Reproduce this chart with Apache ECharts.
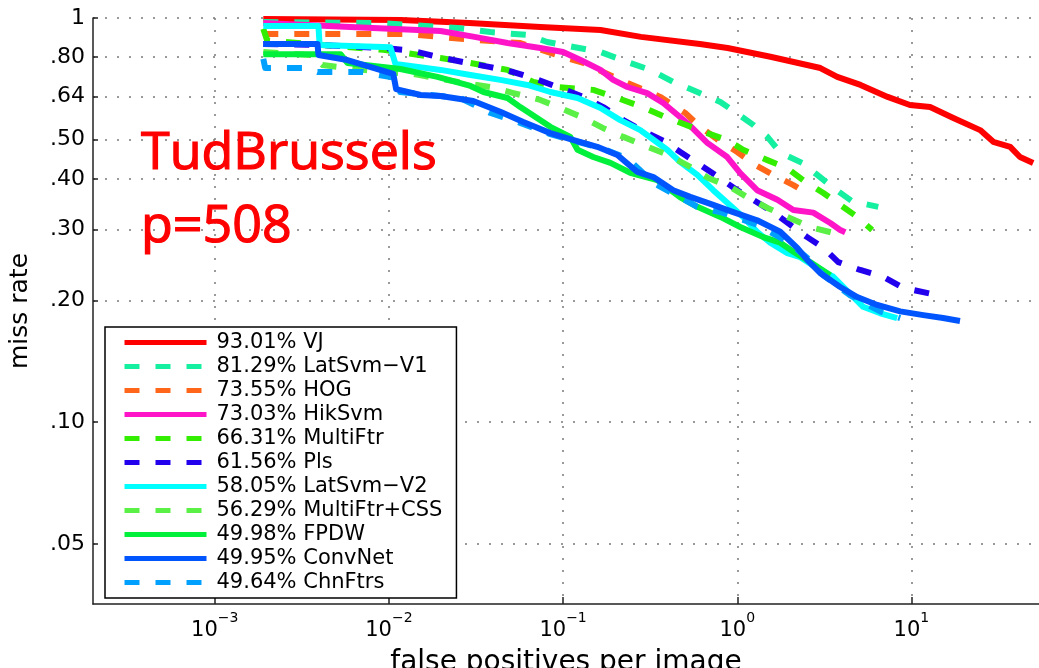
<!DOCTYPE html>
<html>
<head>
<meta charset="utf-8">
<script src="https://cdn.jsdelivr.net/npm/echarts@6/dist/echarts.min.js"></script>
<style>
  html, body { margin: 0; padding: 0; background: #fff; }
  #chart { width: 1039px; height: 668px; }
</style>
</head>
<body>
<div id="chart"></div>
<script>
// Miss rate vs. false positives per image (log-log), TudBrussels pedestrian benchmark
const methodNames = [
  '93.01% VJ', '81.29% LatSvm−V1', '73.55% HOG', '73.03% HikSvm', '66.31% MultiFtr',
  '61.56% Pls', '58.05% LatSvm−V2', '56.29% MultiFtr+CSS', '49.98% FPDW', '49.95% ConvNet', '49.64% ChnFtrs'
];
const methodColors = [
  '#ff0000', '#14f0a0', '#ff6619', '#ff14c8', '#33ee00',
  '#2200ee', '#00ffff', '#5af046', '#00f03c', '#0055ff', '#00a0ff'
];
const methodDashed = [false, true, true, false, true, true, false, true, false, false, true];

// [fppi, miss rate] pairs per method
const vjPts = [[0.0019,0.994],[0.0117,0.989],[0.029,0.972],[0.074,0.95],[0.164,0.934],[0.28,0.898],[0.61,0.862],[0.88,0.843],[1.55,0.802],[3.0,0.752],[3.75,0.715],[5.1,0.683],[7.3,0.638],[9.8,0.609],[12.8,0.602],[17.4,0.566],[24.8,0.528],[29.5,0.494],[36.9,0.48],[42,0.453],[50,0.438]];
const latSvmV1Pts = [[0.0019,0.977],[0.0089,0.972],[0.0247,0.945],[0.0383,0.923],[0.0624,0.908],[0.081,0.872],[0.115,0.848],[0.164,0.824],[0.234,0.778],[0.317,0.744],[0.429,0.695],[0.59,0.656],[0.8,0.62],[0.95,0.589],[1.235,0.544],[1.49,0.508],[1.77,0.464],[2.36,0.438],[2.88,0.409],[3.56,0.38],[4.57,0.352],[6.45,0.341]];
const hogPts = [[0.0019,0.913],[0.0128,0.913],[0.0268,0.887],[0.0568,0.867],[0.1,0.801],[0.131,0.774],[0.213,0.703],[0.361,0.638],[0.503,0.582],[0.613,0.538],[0.778,0.499],[1.0,0.466],[1.27,0.433],[1.61,0.409],[2.1,0.386],[2.62,0.365]];
const hikSvmPts = [[0.0019,0.972],[0.006,0.95],[0.0198,0.929],[0.031,0.898],[0.048,0.867],[0.074,0.843],[0.1,0.824],[0.126,0.787],[0.164,0.744],[0.194,0.703],[0.234,0.675],[0.304,0.652],[0.376,0.616],[0.516,0.55],[0.673,0.491],[0.876,0.453],[1.04,0.413],[1.3,0.375],[1.7,0.355],[2.1,0.335],[2.73,0.33],[3.42,0.311],[3.9,0.299],[4.17,0.295]];
const multiFtrPts = [[0.0019,0.94],[0.002,0.88],[0.004,0.858],[0.0093,0.834],[0.0198,0.796],[0.0275,0.778],[0.048,0.744],[0.0675,0.695],[0.0927,0.675],[0.149,0.664],[0.205,0.634],[0.285,0.602],[0.386,0.569],[0.673,0.519],[0.876,0.499],[1.08,0.472],[1.49,0.445],[1.94,0.425],[2.39,0.397],[3.12,0.369],[3.9,0.345],[4.88,0.322],[5.95,0.299]];
const plsPts = [[0.0019,0.862],[0.004,0.858],[0.0093,0.843],[0.0138,0.829],[0.019,0.801],[0.0268,0.778],[0.0383,0.756],[0.0518,0.735],[0.0721,0.703],[0.0964,0.671],[0.131,0.638],[0.17,0.602],[0.222,0.559],[0.296,0.522],[0.386,0.494],[0.471,0.466],[0.613,0.433],[0.778,0.404],[1.0,0.375],[1.3,0.35],[1.61,0.331],[2.01,0.308],[2.52,0.287],[3.12,0.27],[3.8,0.249],[5.08,0.238],[6.88,0.229],[8.97,0.215],[12.8,0.208]];
const latSvmV2Pts = [[0.0019,0.955],[0.00394,0.955],[0.004,0.858],[0.0102,0.846],[0.0109,0.77],[0.0198,0.744],[0.0294,0.723],[0.0436,0.703],[0.0624,0.683],[0.0845,0.656],[0.121,0.634],[0.164,0.599],[0.213,0.559],[0.2775,0.528],[0.396,0.472],[0.471,0.44],[0.59,0.409],[0.728,0.375],[0.876,0.349],[1.08,0.322],[1.3,0.296],[1.546,0.278],[1.94,0.262],[2.3,0.256],[2.99,0.238],[3.56,0.229],[5.28,0.193],[6.62,0.186],[8.28,0.181]];
const multiFtrCssPts = [[0.0019,0.824],[0.00355,0.81],[0.00415,0.765],[0.0092,0.735],[0.0138,0.727],[0.0268,0.691],[0.0383,0.675],[0.0518,0.652],[0.074,0.627],[0.0964,0.599],[0.131,0.566],[0.17,0.534],[0.222,0.508],[0.289,0.485],[0.402,0.458],[0.537,0.428],[0.682,0.402],[0.912,0.382],[1.157,0.359],[1.49,0.339],[1.94,0.322],[2.62,0.304],[3.56,0.294]];
const fpdwPts = [[0.0019,0.814],[0.00527,0.814],[0.00578,0.774],[0.01164,0.748],[0.019,0.715],[0.0294,0.679],[0.0349,0.656],[0.048,0.634],[0.0568,0.602],[0.0845,0.538],[0.11,0.508],[0.121,0.472],[0.149,0.453],[0.187,0.438],[0.243,0.414],[0.347,0.397],[0.471,0.36],[0.59,0.341],[0.8,0.322],[1.04,0.304],[1.41,0.287],[1.765,0.278],[2.1,0.264],[2.62,0.249],[3.42,0.231]];
const convNetPts = [[0.0019,0.862],[0.00389,0.862],[0.00394,0.81],[0.00578,0.787],[0.0106,0.727],[0.011,0.667],[0.0152,0.645],[0.0198,0.641],[0.0305,0.623],[0.0436,0.586],[0.0591,0.553],[0.0845,0.519],[0.115,0.499],[0.157,0.48],[0.205,0.458],[0.267,0.416],[0.33,0.404],[0.429,0.375],[0.537,0.361],[0.728,0.345],[0.948,0.331],[1.3,0.316],[1.765,0.296],[2.21,0.27],[2.52,0.252],[2.99,0.234],[3.9,0.216],[4.88,0.204],[6.36,0.195],[8.62,0.188],[11.7,0.184],[15.2,0.181],[19.0,0.178]];
const chnFtrsPts = [[0.0019,0.792],[0.00195,0.752],[0.0033,0.752],[0.00389,0.735],[0.0071,0.735],[0.0109,0.711],[0.0116,0.656],[0.0257,0.634],[0.0383,0.582],[0.0568,0.55],[0.0845,0.516],[0.164,0.477],[0.234,0.45],[0.33,0.391],[0.59,0.341],[0.82,0.33],[1.3,0.308],[1.94,0.28],[2.52,0.255],[3.12,0.231],[4.45,0.206],[6.62,0.188],[8.62,0.181]];

const methodPts = [vjPts, latSvmV1Pts, hogPts, hikSvmPts, multiFtrPts, plsPts, latSvmV2Pts, multiFtrCssPts, fpdwPts, convNetPts, chnFtrsPts];

// axis ticks
const yTickValues = [0.05, 0.1, 0.2, 0.3, 0.4, 0.5, 0.64, 0.8, 1];
const yTickLabels = ['.05', '.10', '.20', '.30', '.40', '.50', '.64', '.80', '1'];
const xTickValues = [0.001, 0.01, 0.1, 1, 10];
const xTickExps = ['−3', '−2', '−1', '0', '1'];

const datasetName = 'TudBrussels';
const datasetCount = 'p=508';

function tickIndex(list, v) {
  for (let i = 0; i < list.length; i++) {
    if (Math.abs(list[i] - v) <= 1e-9 * Math.max(1, Math.abs(v))) return i;
  }
  return -1;
}

const dashPattern = [15, 16];
const gridLine = { show: true, lineStyle: { color: '#7a7a7a', width: 1.5, type: [2, 10] } };
const axisBlack = { show: true, lineStyle: { color: '#222', width: 1.5 } };

const series = methodNames.map((name, i) => ({
  name: name,
  type: 'line',
  data: methodPts[i],
  symbol: 'none',
  showSymbol: false,
  z: name.indexOf('ConvNet') >= 0 ? 3 : 2,
  emphasis: { disabled: true },
  lineStyle: {
    color: methodColors[i],
    width: 6,
    type: methodDashed[i] ? dashPattern : 'solid',
    cap: 'butt',
    join: 'round'
  },
  itemStyle: { color: methodColors[i] }
}));

const chart = echarts.init(document.getElementById('chart'), null, { renderer: 'canvas' });
chart.setOption({
  animation: false,
  backgroundColor: '#fff',
  title: {
    text: datasetName + '\n' + datasetCount,
    left: 141,
    top: 118,
    padding: 0,
    textStyle: { fontFamily: 'Open Sans', fontSize: 52, fontWeight: 'normal', color: '#ff0000', lineHeight: 73, textBorderColor: '#ff0000', textBorderWidth: 1.2 }
  },
  grid: { left: 93, right: 0, top: 18, bottom: 64, containLabel: false, outerBoundsMode: 'none' },
  xAxis: {
    type: 'log',
    logBase: 10,
    min: 0.0002,
    max: 54,
    name: 'false positives per image',
    nameLocation: 'middle',
    nameGap: 45,
    nameTextStyle: { fontFamily: 'DejaVu Sans', fontSize: 28, color: '#000', verticalAlign: 'top' },
    axisLine: axisBlack,
    axisTick: { show: true, inside: true, length: 7, customValues: xTickValues, lineStyle: { color: '#222', width: 1.5 } },
    axisLabel: {
      customValues: xTickValues,
      margin: 7,
      formatter: function (v) {
        const k = tickIndex(xTickValues, v);
        return k < 0 ? '' : '{b|10}{e|' + xTickExps[k] + '}';
      },
      rich: {
        b: { fontFamily: 'DejaVu Sans', fontSize: 21, lineHeight: 30, color: '#000', verticalAlign: 'bottom' },
        e: { fontFamily: 'DejaVu Sans', fontSize: 14, lineHeight: 30, color: '#000', verticalAlign: 'top' }
      }
    },
    splitLine: gridLine
  },
  yAxis: {
    type: 'log',
    logBase: 10,
    min: 0.0355,
    max: 1,
    name: 'miss rate',
    nameLocation: 'middle',
    nameGap: 60,
    nameRotate: 90,
    nameTextStyle: { fontFamily: 'DejaVu Sans', fontSize: 25, color: '#000' },
    axisLine: axisBlack,
    axisTick: { show: true, inside: true, length: 5, customValues: yTickValues, lineStyle: { color: '#222', width: 1.5 } },
    axisLabel: {
      customValues: yTickValues,
      margin: 8,
      fontFamily: 'DejaVu Sans',
      fontSize: 22,
      color: '#000',
      formatter: function (v) {
        const k = tickIndex(yTickValues, v);
        return k < 0 ? '' : yTickLabels[k];
      }
    },
    splitLine: gridLine
  },
  legend: {
    orient: 'vertical',
    left: 105,
    top: 327,
    itemWidth: 82,
    itemHeight: 6,
    itemGap: 3,
    padding: [5, 14, 5, 17],
    borderColor: '#000',
    borderWidth: 1.5,
    backgroundColor: '#fff',
    selectedMode: false,
    itemStyle: { opacity: 0 },
    lineStyle: { width: 5 },
    textStyle: { fontFamily: 'DejaVu Sans', fontSize: 21, lineHeight: 21, color: '#000', padding: [0, 0, 0, 5] },
    data: methodNames
  },
  series: series
});
</script>
</body>
</html>
